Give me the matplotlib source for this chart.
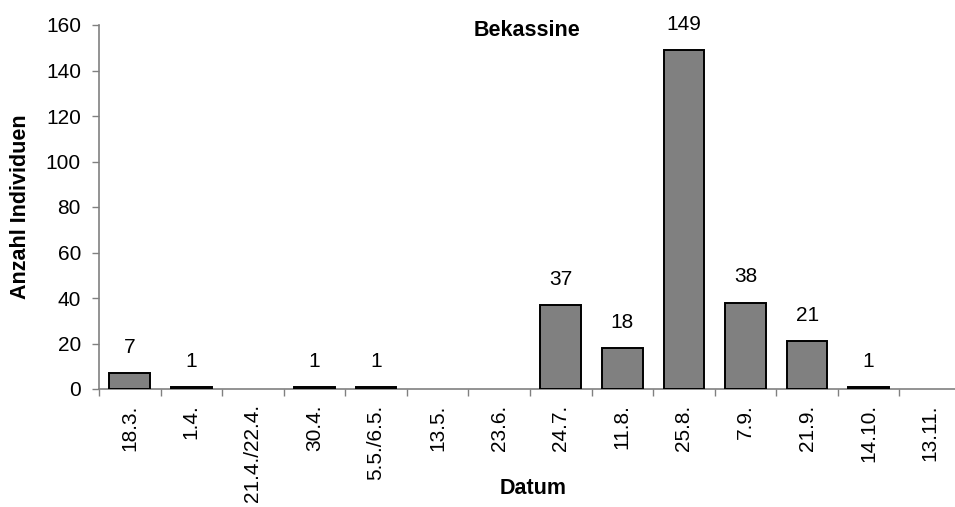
import matplotlib
matplotlib.use("Agg")
import matplotlib.pyplot as plt
import numpy as np

categories = ["18.3.", "1.4.", "21.4./22.4.", "30.4.", "5.5./6.5.", "13.5.", "23.6.",
              "24.7.", "11.8.", "25.8.", "7.9.", "21.9.", "14.10.", "13.11."]
values = [7, 1, 0, 1, 1, 0, 0, 37, 18, 149, 38, 21, 1, 0]
yticks = [0, 20, 40, 60, 80, 100, 120, 140, 160]

plt.rcParams['font.family'] = ['Liberation Sans', 'DejaVu Sans']

W, H = 955, 507
fig = plt.figure(figsize=(W / 100, H / 100), dpi=100)
ax = fig.add_axes([99 / W, 1 - 389 / H, (961 - 99) / W, (389 - 25) / H])

FS = 15
x = np.arange(len(categories))
for xi, v in zip(x, values):
    if v > 0:
        ax.bar(xi, v, width=0.66, color="#808080", edgecolor="black", linewidth=1.4, zorder=3)
        ax.annotate(str(v), (xi, v), xytext=(0, 14.5), textcoords="offset points",
                    ha="center", va="baseline", fontsize=FS)

ax.set_xlim(-0.5, len(categories) - 0.5)
ax.set_ylim(0, 160)
ax.set_yticks(yticks)
ax.set_yticklabels([str(t) for t in yticks], fontsize=FS)
ax.set_xticks(x)
ax.set_xticklabels(categories, rotation=90, fontsize=FS)
ax.tick_params(axis="x", length=0, pad=11)
ax.set_xticks(np.arange(len(categories) + 1) - 0.5, minor=True)
ax.tick_params(axis="x", which="minor", length=5, width=1, color="#808080", direction="out")
ax.tick_params(axis="y", length=5, width=1, color="#808080", direction="out", pad=8)

for s in ["top", "right"]:
    ax.spines[s].set_visible(False)
for s in ["left", "bottom"]:
    ax.spines[s].set_color("#808080")
    ax.spines[s].set_linewidth(1.2)

fig.text(527 / W, 1 - 30 / H, "Bekassine", ha="center", va="center",
         fontsize=15.5, fontweight="bold")
fig.text(21 / W, 1 - 207 / H, "Anzahl Individuen", ha="center", va="center", rotation=90,
         fontsize=15.5, fontweight="bold")
fig.text(533 / W, 1 - 488 / H, "Datum", ha="center", va="center", fontsize=15.5, fontweight="bold")

fig.savefig("out.png", dpi=100)
